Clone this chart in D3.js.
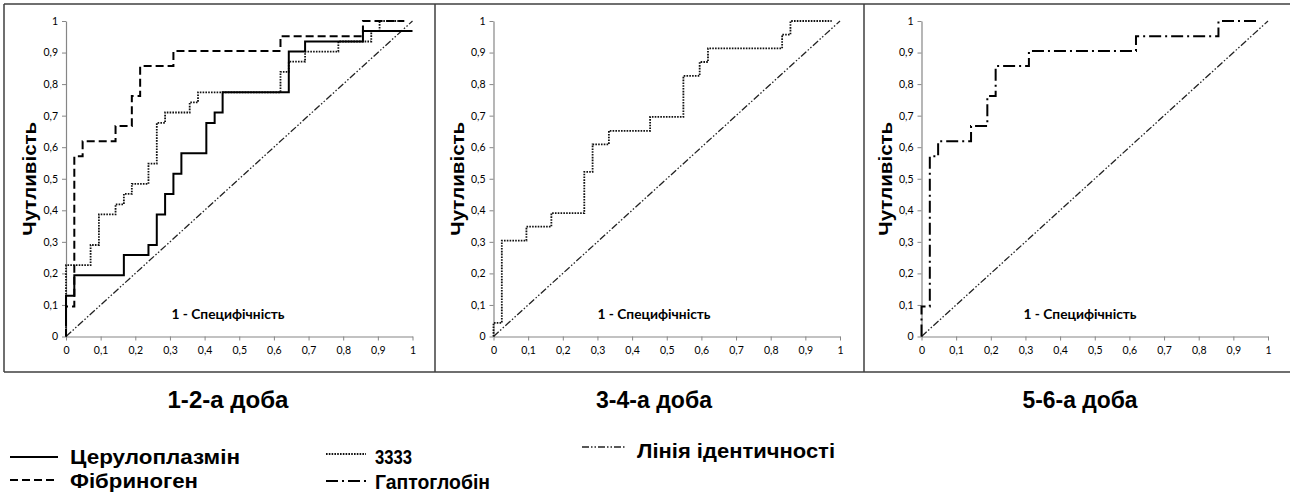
<!DOCTYPE html>
<html><head><meta charset="utf-8">
<script src="https://cdn.jsdelivr.net/npm/d3@7"></script>
<style>body{margin:0;background:#fff}svg{display:block}</style>
</head><body>
<svg id="c" width="1290" height="495"></svg>
<script>
// ---- data ----
const tickValues = [0,0.1,0.2,0.3,0.4,0.5,0.6,0.7,0.8,0.9,1];
const tickLabels = ["0","0,1","0,2","0,3","0,4","0,5","0,6","0,7","0,8","0,9","1"];
const panelTitles = ["1-2-а доба","3-4-а доба","5-6-а доба"];
const yTitle = "Чутливість";
const xTitle = "1 - Специфічність";

const identX = [0, 1];
const identY = [0, 1];

// day 1-2
const cerulo12X = [0, 0, 0.024, 0.167, 0.238, 0.262, 0.286, 0.310, 0.333, 0.405, 0.429, 0.452, 0.643, 0.690, 0.857, 1];
const cerulo12Y = [0.032, 0.129, 0.194, 0.258, 0.290, 0.387, 0.452, 0.516, 0.581, 0.677, 0.710, 0.774, 0.903, 0.935, 0.968, 0.968];
const fibr12X = [0, 0, 0.024, 0.048, 0.143, 0.190, 0.214, 0.310, 0.619, 0.857, 0.976];
const fibr12Y = [0, 0.095, 0.571, 0.619, 0.667, 0.762, 0.857, 0.905, 0.952, 1, 1];
const z12X = [0, 0, 0.071, 0.095, 0.143, 0.167, 0.190, 0.238, 0.262, 0.286, 0.357, 0.381, 0.619, 0.643, 0.690, 0.786, 0.881, 0.905, 0.976];
const z12Y = [0, 0.226, 0.290, 0.387, 0.419, 0.452, 0.484, 0.548, 0.677, 0.710, 0.742, 0.774, 0.839, 0.871, 0.903, 0.935, 0.968, 1, 1];
// day 3-4
const z34X = [0, 0, 0.024, 0.095, 0.167, 0.262, 0.286, 0.333, 0.452, 0.548, 0.595, 0.619, 0.833, 0.857, 0.976];
const z34Y = [0, 0.043, 0.304, 0.348, 0.391, 0.522, 0.609, 0.652, 0.696, 0.826, 0.870, 0.913, 0.957, 1, 1];
// day 5-6
const hapto56X = [0, 0, 0.024, 0.048, 0.143, 0.190, 0.214, 0.310, 0.619, 0.857, 0.976];
const hapto56Y = [0, 0.095, 0.571, 0.619, 0.667, 0.762, 0.857, 0.905, 0.952, 1, 1];

const seriesNames = ["Церулоплазмін","Фібриноген","3333","Гаптоглобін","Лінія ідентичності"];

// ---- styles ----
const styles = {
  "Церулоплазмін": {dash:null, w:2, c:"#000"},
  "Фібриноген": {dash:"8 4", w:2, c:"#000"},
  "3333": {dash:"1.6 1.2", w:1.8, c:"#111"},
  "Гаптоглобін": {dash:"12 4 2 4", w:2, c:"#000"},
  "Лінія ідентичності": {dash:"7 2 1.5 2 1.5 2", w:1.3, c:"#222"}
};

const panels = [
  {title: panelTitles[0], series:[["3333", z12X, z12Y],["Фібриноген", fibr12X, fibr12Y],["Церулоплазмін", cerulo12X, cerulo12Y]]},
  {title: panelTitles[1], series:[["3333", z34X, z34Y]]},
  {title: panelTitles[2], series:[["Гаптоглобін", hapto56X, hapto56Y]]}
];

// ---- layout ----
const svg = d3.select("#c");
const frameX = [4, 435, 864, 1291];
const frameTop = 4, frameBottom = 372;
const plotLeft = [66, 493.5, 921.5];
const plotW = 346.5;
const plotTop = 21, plotBottom = 336.5;
const titleCx = [228, 654, 1080];
const titleW = [121, 116, 115];
const bigFont = "'Liberation Sans', Arial, sans-serif";

// frames
svg.append("path")
  .attr("d", `M${frameX[0]},${frameTop}H${frameX[3]}M${frameX[0]},${frameBottom}H${frameX[3]}` +
             frameX.map(x => `M${x},${frameTop}V${frameBottom}`).join(""))
  .attr("stroke", "#404040").attr("stroke-width", 1.5).attr("fill", "none");

panels.forEach((p, i) => {
  const x = d3.scaleLinear().domain([0,1]).range([plotLeft[i], plotLeft[i] + plotW]);
  const y = d3.scaleLinear().domain([0,1]).range([plotBottom, plotTop]);
  const g = svg.append("g");

  // axes
  const yAxis = d3.axisLeft(y).tickValues(tickValues).tickFormat((d,k) => tickLabels[k]).tickSize(4).tickSizeOuter(0);
  const xAxis = d3.axisBottom(x).tickValues(tickValues).tickFormat((d,k) => tickLabels[k]).tickSize(4).tickSizeOuter(0);
  const ya = g.append("g").attr("transform", `translate(${plotLeft[i]},0)`).call(yAxis);
  const xa = g.append("g").attr("transform", `translate(0,${plotBottom})`).call(xAxis);
  [ya, xa].forEach(a => {
    a.select(".domain").attr("stroke", "#868686").attr("stroke-width", 1.2);
    a.selectAll(".tick line").attr("stroke", "#868686");
    a.selectAll("text").attr("font-family", "Lato, 'Open Sans', sans-serif").attr("font-size", 10.5).attr("fill", "#000");
  });
  ya.selectAll("text").attr("x", -8);
  xa.selectAll("text").attr("y", 10);

  // identity line
  const line = d3.line().x(d => x(d[0])).y(d => y(d[1]));
  const st = styles["Лінія ідентичності"];
  g.append("path").datum(identX.map((v,k) => [v, identY[k]]))
    .attr("d", line).attr("fill","none").attr("stroke", st.c).attr("stroke-width", st.w).attr("stroke-dasharray", st.dash);

  // ROC curves
  const stepLine = d3.line().x(d => x(d[0])).y(d => y(d[1])).curve(d3.curveStepAfter);
  p.series.forEach(([name, xs, ys]) => {
    const s = styles[name];
    g.append("path").datum(xs.map((v,k) => [v, ys[k]]))
      .attr("d", stepLine).attr("fill","none").attr("stroke", s.c).attr("stroke-width", s.w)
      .attr("stroke-dasharray", s.dash).attr("stroke-linejoin","miter").attr("stroke-linecap","butt");
  });

  // axis titles
  g.append("text").text(yTitle)
    .attr("transform", `translate(${plotLeft[i]-36},${(plotTop+plotBottom)/2}) rotate(-90)`)
    .attr("text-anchor","middle").attr("dominant-baseline","central")
    .attr("textLength", 114).attr("lengthAdjust","spacingAndGlyphs")
    .attr("font-family", bigFont).attr("font-weight","bold").attr("font-size",18);
  g.append("text").text(xTitle)
    .attr("x", titleCx[i]).attr("y", 319)
    .attr("text-anchor","middle")
    .attr("textLength", 113).attr("lengthAdjust","spacingAndGlyphs")
    .attr("font-family","Lato, 'Open Sans', sans-serif").attr("font-weight","bold").attr("font-size",13);

  // panel title
  svg.append("text").text(p.title)
    .attr("x", titleCx[i]).attr("y", 408).attr("text-anchor","middle")
    .attr("textLength", titleW[i]).attr("lengthAdjust","spacingAndGlyphs")
    .attr("font-family", bigFont).attr("font-weight","bold").attr("font-size",23).attr("fill","#000");
});

// ---- legend ----
const legendItems = [
  {name: seriesNames[0], x1:10, x2:58, ly:457, tx:70, ty:464, tw:170},
  {name: seriesNames[1], x1:10, x2:58, ly:480, tx:70, ty:488, tw:128},
  {name: seriesNames[2], x1:326, x2:366, ly:454, tx:375, ty:464, tw:37},
  {name: seriesNames[3], x1:326, x2:367, ly:481, tx:375, ty:489, tw:115},
  {name: seriesNames[4], x1:582, x2:625, ly:447, tx:637, ty:458, tw:198}
];
const lg = svg.append("g");
legendItems.forEach(it => {
  const s = styles[it.name];
  lg.append("line").attr("x1", it.x1).attr("x2", it.x2).attr("y1", it.ly).attr("y2", it.ly)
    .attr("stroke", s.c).attr("stroke-width", s.w).attr("stroke-dasharray", s.dash);
  lg.append("text").text(it.name).attr("x", it.tx).attr("y", it.ty)
    .attr("textLength", it.tw).attr("lengthAdjust","spacingAndGlyphs")
    .attr("font-family", bigFont).attr("font-weight","bold").attr("font-size",21).attr("fill","#000");
});
</script>
</body></html>
